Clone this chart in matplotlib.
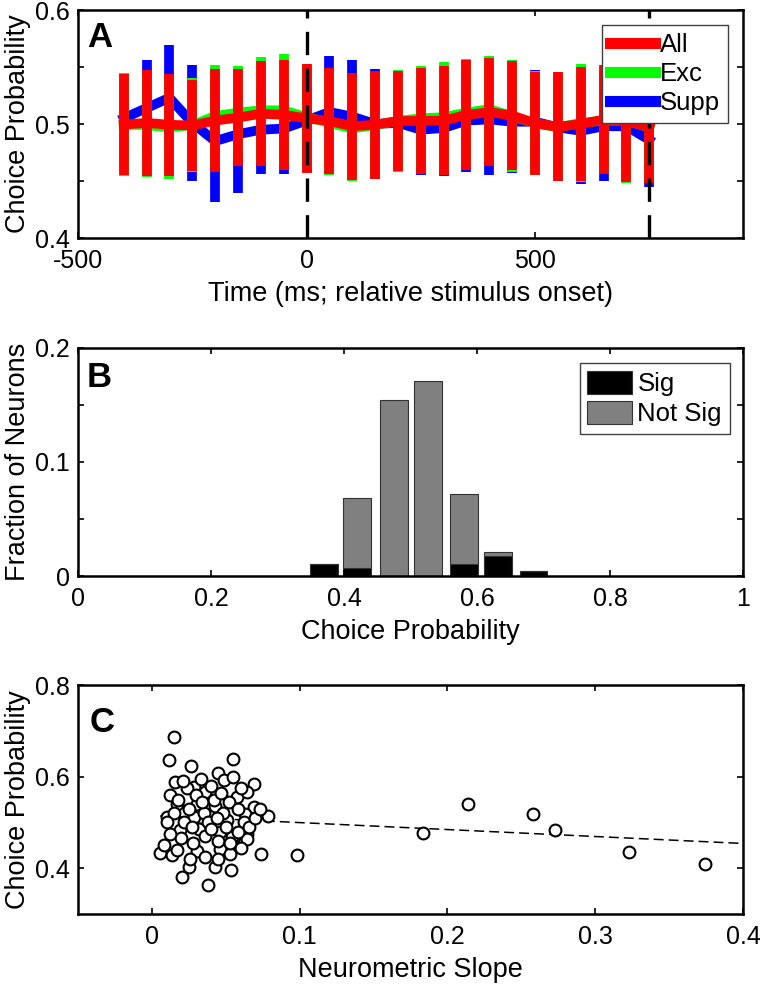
import numpy as np
import matplotlib
matplotlib.use('Agg')
import matplotlib.pyplot as plt
from matplotlib.lines import Line2D

plt.rcParams['font.family'] = ['Liberation Sans', 'DejaVu Sans']
plt.rcParams['axes.unicode_minus'] = False

# Panel A - choice probability over time
time_ms = [-400, -350, -300, -250, -200, -150, -100, -50, 0, 50, 100, 150,
           200, 250, 300, 350, 400, 450, 500, 550, 600, 650, 700, 750]
all_cp = [0.4995, 0.501, 0.4993, 0.4987, 0.503, 0.5056, 0.509, 0.508, 0.505, 0.5027, 0.498, 0.4994,
          0.5026, 0.5027, 0.503, 0.508, 0.5104, 0.5075, 0.5006, 0.4975, 0.500, 0.5038, 0.503, 0.497]
all_err = [0.044, 0.0465, 0.0446, 0.040, 0.0455, 0.0427, 0.046, 0.048, 0.048, 0.0463, 0.0468, 0.0474,
           0.0436, 0.0463, 0.0475, 0.048, 0.0475, 0.0475, 0.045, 0.0478, 0.0504, 0.048, 0.054, 0.049]
exc_cp = [0.4994, 0.499, 0.497, 0.499, 0.507, 0.510, 0.512, 0.512, 0.506, 0.501, 0.496, 0.499,
          0.5028, 0.505, 0.506, 0.510, 0.513, 0.5068, 0.5006, 0.497, 0.501, 0.503, 0.503, 0.497]
exc_err = [0.0453, 0.0455, 0.045, 0.041, 0.045, 0.041, 0.0465, 0.049, 0.046, 0.046, 0.046, 0.046,
           0.0449, 0.0456, 0.048, 0.047, 0.0464, 0.049, 0.0456, 0.046, 0.0516, 0.047, 0.055, 0.047]
supp_cp = [0.505, 0.514, 0.523, 0.501, 0.485, 0.491, 0.495, 0.496, 0.503, 0.5105, 0.5065, 0.500,
           0.501, 0.495, 0.4965, 0.503, 0.504, 0.502, 0.502, 0.497, 0.494, 0.498, 0.498, 0.486]
supp_err = [0.040, 0.042, 0.046, 0.051, 0.053, 0.0515, 0.0386, 0.0396, 0.045, 0.049, 0.0493, 0.048,
            0.043, 0.040, 0.0425, 0.045, 0.049, 0.045, 0.045, 0.046, 0.047, 0.048, 0.045, 0.041]
event_times = [0, 750]

# Panel B - histogram of choice probabilities
cp_bins = [0.37, 0.42, 0.475, 0.527, 0.58, 0.632, 0.685]
frac_sig = [0.0108, 0.0073, 0.0, 0.0, 0.0108, 0.0178, 0.0041]
frac_notsig = [0.0, 0.0607, 0.154, 0.171, 0.0612, 0.003, 0.0]

# Panel C - neurometric slope vs choice probability
slope = [0.0147, 0.0113, 0.0267, 0.0547, 0.0448, 0.0491, 0.069, 0.0158, 0.0282, 0.0362,
         0.0124, 0.0577, 0.0645, 0.043, 0.069, 0.0633, 0.0788, 0.0192, 0.0328, 0.0102,
         0.017, 0.0282, 0.0509, 0.0464, 0.0554, 0.0645, 0.0305,
         0.0056, 0.0136, 0.0249, 0.0204, 0.0378, 0.043, 0.0538, 0.0305, 0.0464, 0.0527,
         0.0645, 0.0735, 0.0321, 0.0543, 0.0079,
         0.015, 0.022, 0.025, 0.035, 0.038, 0.042, 0.048, 0.052, 0.058, 0.062,
         0.020, 0.028, 0.036, 0.040, 0.045, 0.050, 0.058, 0.066, 0.012, 0.018,
         0.024, 0.033, 0.040, 0.047, 0.055, 0.060, 0.030, 0.021, 0.010, 0.017,
         0.026, 0.036, 0.045, 0.060, 0.070, 0.073, 0.034, 0.027, 0.044, 0.053,
         0.098, 0.1833, 0.2138, 0.258, 0.2731, 0.3228, 0.3743]
slope_cp = [0.687, 0.637, 0.623, 0.638, 0.608, 0.592, 0.583, 0.588, 0.5775, 0.5665,
            0.559, 0.5556, 0.5665, 0.536, 0.534, 0.518, 0.514, 0.483, 0.486, 0.512,
            0.541, 0.512, 0.505, 0.479, 0.468, 0.4755, 0.541,
            0.434, 0.428, 0.4025, 0.3805, 0.364, 0.4025, 0.395, 0.4375, 0.443, 0.432,
            0.4645, 0.432, 0.4865, 0.468, 0.450,
            0.520, 0.500, 0.530, 0.520, 0.500, 0.550, 0.520, 0.545, 0.530, 0.500,
            0.465, 0.455, 0.470, 0.485, 0.460, 0.490, 0.480, 0.490, 0.475, 0.550,
            0.575, 0.595, 0.580, 0.565, 0.600, 0.575, 0.560, 0.590, 0.500, 0.440,
            0.420, 0.425, 0.420, 0.445, 0.510, 0.530, 0.545, 0.490, 0.510, 0.455,
            0.4295, 0.476, 0.541, 0.5177, 0.4842, 0.4346, 0.4083]
fit_slope = -0.152
fit_intercept = 0.5148

tick_fs = 18
label_fs = 19.5
legend_fs = 18.5
letter_fs = 25


def style_axes(ax, xpad=8):
    for sp in ax.spines.values():
        sp.set_linewidth(1.8)
    ax.tick_params(direction='in', length=4.5, width=1.2, top=True, right=True,
                   labelsize=tick_fs)
    ax.tick_params(axis='y', pad=6)
    ax.tick_params(axis='x', pad=xpad)


fig = plt.figure(figsize=(7.6, 9.88), dpi=100)

# ---- A ----
axA = fig.add_axes([78 / 760, 1 - 238 / 988, 665 / 760, 228 / 988])
series = [(supp_cp, supp_err, (0, 0, 1), 'Supp', 2),
          (exc_cp, exc_err, (0, 1, 0), 'Exc', 3),
          (all_cp, all_err, (1, 0, 0), 'All', 4)]
for cp, err, col, lab, z in series:
    axA.errorbar(time_ms, cp, yerr=err, color=col, lw=7, elinewidth=7, capsize=0, zorder=z)
for t in event_times:
    axA.axvline(t, color='k', lw=2.4, dashes=(7, 4), zorder=6)
axA.set_xlim(-500, 955)
axA.set_ylim(0.4, 0.6)
axA.set_xticks([-500, 0, 500])
axA.set_yticks([0.4, 0.45, 0.5, 0.55, 0.6])
axA.set_yticklabels(['0.4', '', '0.5', '', '0.6'])
axA.set_xlabel('Time (ms; relative stimulus onset)', fontsize=label_fs, labelpad=6)
axA.set_ylabel('Choice Probability', fontsize=label_fs, labelpad=3)
style_axes(axA)
handlesA = [Line2D([], [], color=col, lw=8) for _, _, col, _, _ in series[::-1]]
labelsA = [lab for _, _, _, lab, _ in series[::-1]]
legA = axA.legend(handlesA, labelsA, loc='upper right', bbox_to_anchor=(0.977, 0.934),
                  fontsize=legend_fs, fancybox=False, framealpha=1, edgecolor='0.25',
                  handlelength=1.75, handletextpad=0.2, labelspacing=0.2, borderpad=0.3,
                  borderaxespad=0)
legA.set_zorder(10)
axA.text(0.0135, 0.838, 'A', transform=axA.transAxes, fontsize=letter_fs, fontweight='bold')

# ---- B ----
axB = fig.add_axes([78 / 760, 1 - 576 / 988, 665 / 760, 228 / 988])
axB.bar(cp_bins, frac_sig, width=0.042, color='k', edgecolor='0.2', lw=0.8, label='Sig')
axB.bar(cp_bins, frac_notsig, width=0.042, bottom=frac_sig, color='0.5', edgecolor='0.2',
        lw=0.8, label='Not Sig')
axB.set_xlim(0, 1)
axB.set_ylim(0, 0.2)
axB.set_xticks([0, 0.2, 0.4, 0.6, 0.8, 1])
axB.set_xticklabels(['0', '0.2', '0.4', '0.6', '0.8', '1'])
axB.set_yticks([0, 0.05, 0.1, 0.15, 0.2])
axB.set_yticklabels(['0', '', '0.1', '', '0.2'])
axB.set_xlabel('Choice Probability', fontsize=label_fs, labelpad=6)
axB.set_ylabel('Fraction of Neurons', fontsize=label_fs, labelpad=3)
style_axes(axB)
axB.legend(loc='upper right', bbox_to_anchor=(0.98, 0.934), fontsize=legend_fs,
           fancybox=False, framealpha=1, edgecolor='0.25', handlelength=1.75,
           handleheight=1.0, handletextpad=0.2, labelspacing=0.2, borderpad=0.3,
           borderaxespad=0)
axB.text(0.0135, 0.829, 'B', transform=axB.transAxes, fontsize=letter_fs, fontweight='bold')

# ---- C ----
axC = fig.add_axes([78 / 760, 1 - 914 / 988, 665 / 760, 229 / 988])
fit_x = np.array([min(slope), 0.4])
axC.plot(fit_x, fit_intercept + fit_slope * fit_x, color='k', lw=1.1, dashes=(6.5, 3.3), zorder=2)
axC.plot(slope, slope_cp, 'o', mfc='w', mec='k', ms=8.5, mew=1.5, zorder=3)
axC.set_xlim(-0.05, 0.4)
axC.set_ylim(0.3, 0.8)
axC.set_xticks([0, 0.1, 0.2, 0.3, 0.4])
axC.set_xticklabels(['0', '0.1', '0.2', '0.3', '0.4'])
axC.set_yticks([0.4, 0.6, 0.8])
axC.set_yticklabels(['0.4', '0.6', '0.8'])
axC.set_xlabel('Neurometric Slope', fontsize=label_fs, labelpad=6)
axC.set_ylabel('Choice Probability', fontsize=label_fs, labelpad=3)
style_axes(axC)
axC.text(0.018, 0.795, 'C', transform=axC.transAxes, fontsize=letter_fs, fontweight='bold')

fig.savefig('out.png', dpi=100)
